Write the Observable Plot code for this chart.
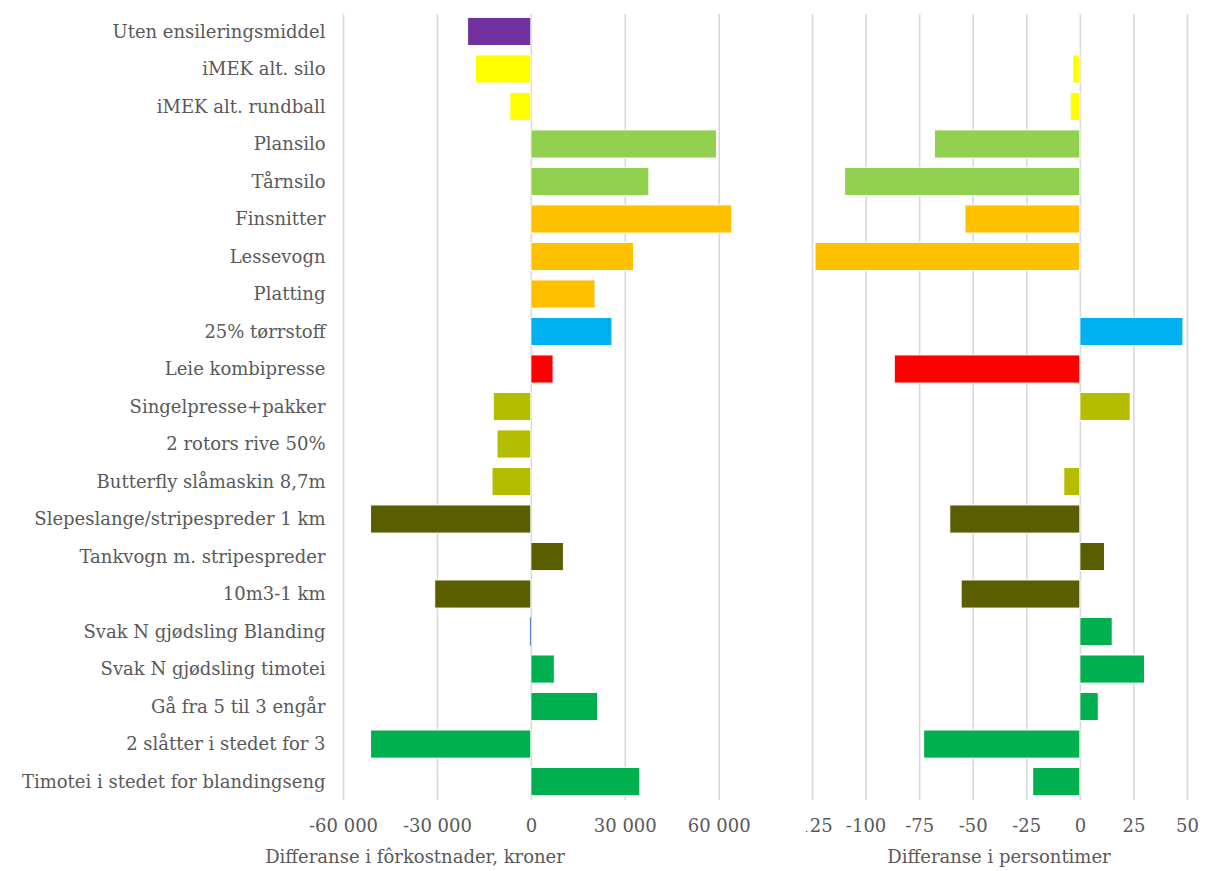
<!DOCTYPE html>
<html>
<head>
<meta charset="utf-8">
<script src="https://cdn.jsdelivr.net/npm/d3@7"></script>
<script src="https://cdn.jsdelivr.net/npm/@observablehq/plot@0.6"></script>
<style>
  html, body { margin: 0; padding: 0; background: #fff; }
  #wrap { position: relative; width: 1207px; height: 871px; display: flex; }
  .title { position: absolute; top: 848px; transform: translateX(-50%); white-space: nowrap;
           font-family: "DejaVu Serif", serif; font-size: 18px; line-height: 18px; color: #595959; }
</style>
</head>
<body>
<div id="wrap"></div>
<script>
// ---- data ----
const categories = [
  "Uten ensileringsmiddel",
  "iMEK alt. silo",
  "iMEK alt. rundball",
  "Plansilo",
  "Tårnsilo",
  "Finsnitter",
  "Lessevogn",
  "Platting",
  "25% tørrstoff",
  "Leie kombipresse",
  "Singelpresse+pakker",
  "2 rotors rive 50%",
  "Butterfly slåmaskin 8,7m",
  "Slepeslange/stripespreder 1 km",
  "Tankvogn m. stripespreder",
  "10m3-1 km",
  "Svak N gjødsling Blanding",
  "Svak N gjødsling timotei",
  "Gå fra 5 til 3 engår",
  "2 slåtter i stedet for 3",
  "Timotei i stedet for blandingseng"
];
const groups = [
  "ensilering", "imek", "imek", "silo", "silo", "hosting", "hosting", "hosting",
  "torrstoff", "kombipresse", "maskin", "maskin", "maskin",
  "gjodsel", "gjodsel", "gjodsel", "eng", "eng", "eng", "eng", "eng"
];
// Differanse i fôrkostnader, kroner
const costValues = [
  -20200, -17700, -6700, 59300, 37700, 64200, 32800, 20500, 25900, 7100,
  -12000, -10800, -12400, -51200, 10400, -30700, -300, 7500, 21300, -51200, 34800
];
// Differanse i persontimer (null = ingen verdi)
const hourValues = [
  null, -3.3, -4.5, -67.9, -109.8, -53.6, -123.6, null, 48.1, -86.6,
  23.5, null, -7.5, -60.7, 11.5, -55.4, 15.1, 30.2, 8.6, -72.9, -22
];
const costTicks = [-60000, -30000, 0, 30000, 60000];
const hourTicks = [-125, -100, -75, -50, -25, 0, 25, 50];

// ---- styling ----
const groupColors = {
  ensilering: "#7030a0", imek: "#ffff00", silo: "#92d050", hosting: "#ffc000",
  torrstoff: "#00b0f0", kombipresse: "#ff0000", maskin: "#b5bd00",
  gjodsel: "#5a5e00", eng: "#00b050"
};
const fmt = d3.formatLocale({decimal: ",", thousands: " ", grouping: [3], currency: ["", ""], minus: "-"}).format(",d");

const costData = categories.map((c, i) => ({cat: c, group: groups[i], value: costValues[i]}));
const hourData = categories.map((c, i) => ({cat: c, group: groups[i], value: hourValues[i]}))
  .filter(d => d.value != null);

const FONT = "DejaVu Serif";
const common = {
  height: 871, marginTop: 8, marginBottom: 66,
  y: {domain: categories, padding: 0.25, round: false}
};
const gridOpts = {stroke: "#d9d9d9", strokeOpacity: 1, strokeWidth: 1.6, insetTop: 6, insetBottom: 5};

const left = Plot.plot({
  ...common,
  width: 806, marginLeft: 343, marginRight: 56,
  style: {fontFamily: FONT, fontSize: "18px", color: "#595959", background: "transparent", overflow: "visible"},
  x: {domain: [-60000, 70000]},
  marks: [
    Plot.gridX(costTicks, gridOpts),
    Plot.barX(costData, {
      y: "cat", x: "value",
      fill: d => (d.cat === "Svak N gjødsling Blanding" ? "#4472c4" : groupColors[d.group]),
      stroke: "white", strokeWidth: d => (d.cat === "Svak N gjødsling Blanding" ? 0 : 1)
    }),
    Plot.axisY({tickSize: 0, tickPadding: 18, label: null, fill: "#595959"}),
    Plot.axisX({ticks: costTicks, tickFormat: fmt, tickSize: 0, tickPadding: 14, label: null, fill: "#595959"})
  ]
});

const right = Plot.plot({
  ...common,
  width: 401, marginLeft: 6, marginRight: 20,
  style: {fontFamily: FONT, fontSize: "18px", color: "#595959", background: "transparent", overflow: "hidden"},
  x: {domain: [-125, 50]},
  marks: [
    Plot.gridX(hourTicks, gridOpts),
    Plot.barX(hourData, {y: "cat", x: "value", fill: d => groupColors[d.group], stroke: "white", strokeWidth: 1}),
    Plot.axisY({ticks: [], label: null}),
    Plot.axisX({ticks: hourTicks, tickFormat: fmt, tickSize: 0, tickPadding: 14, label: null, fill: "#595959"})
  ]
});

const wrap = document.getElementById("wrap");
wrap.appendChild(left);
wrap.appendChild(right);

const t1 = document.createElement("div");
t1.className = "title"; t1.style.left = "415px";
t1.textContent = "Differanse i fôrkostnader, kroner";
const t2 = document.createElement("div");
t2.className = "title"; t2.style.left = "999px";
t2.textContent = "Differanse i persontimer";
wrap.appendChild(t1);
wrap.appendChild(t2);
</script>
</body>
</html>
